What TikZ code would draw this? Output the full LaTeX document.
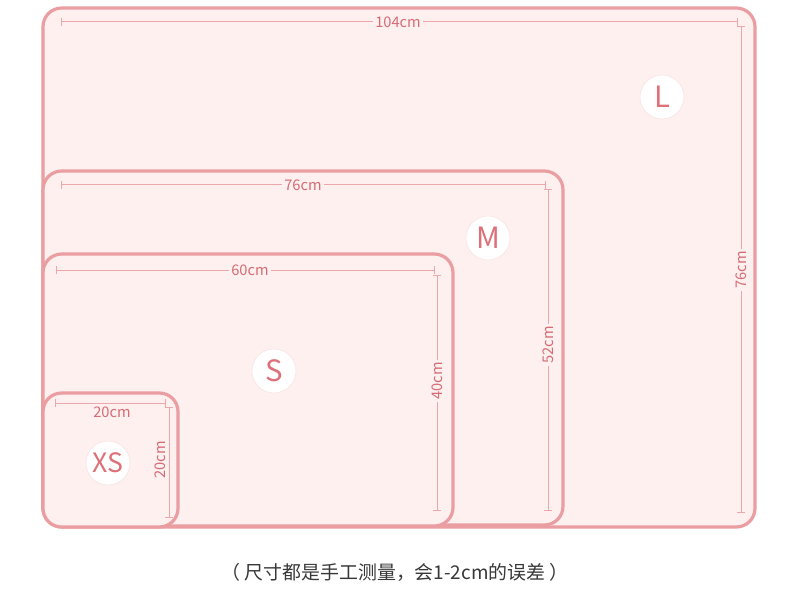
\documentclass[tikz,border=0pt]{standalone}
\usepackage{fontspec}
\setmainfont{Noto Sans CJK SC}
\begin{document}
\begin{tikzpicture}[x=0.75pt,y=-0.75pt,
  boxline/.style={draw=bordercol,line width=2.4pt,fill=boxfill,rounded corners=14pt},
  dimline/.style={draw=dimcol,line width=0.75pt},
  dimlabel/.style={fill=boxfill,text=textcol,font=\fontsize{11}{13}\selectfont,inner sep=1.5pt},
  sizecircle/.style={circle,fill=white,draw=circlecol,line width=0.4pt,minimum size=33pt,inner sep=0pt,text=lettercol,font=\fontsize{22}{24}\selectfont}]
\definecolor{bordercol}{HTML}{EA9EA1}
\definecolor{boxfill}{HTML}{FDF0EF}
\definecolor{dimcol}{HTML}{EBA7AA}
\definecolor{textcol}{HTML}{D76C76}
\definecolor{lettercol}{HTML}{DE7078}
\definecolor{circlecol}{HTML}{F7E2E2}
\useasboundingbox[fill=white] (0,0) rectangle (790,610);

% L
\draw[boxline] (43,8) rectangle (755,527);
\coordinate (lh1) at (61,22); \coordinate (lh2) at (737,22);
\coordinate (lv1) at (741,27); \coordinate (lv2) at (741,512);
\draw[dimline] (lh1) -- (lh2);
\draw[dimline] ([yshift=-3pt]lh1) -- ([yshift=3pt]lh1);
\draw[dimline] ([yshift=-3pt]lh2) -- ([yshift=3pt]lh2);
\draw[dimline] (lv1) -- (lv2);
\draw[dimline] ([xshift=-3pt]lv1) -- ([xshift=3pt]lv1);
\draw[dimline] ([xshift=-3pt]lv2) -- ([xshift=3pt]lv2);
\node[dimlabel] (lw) at (398,22) {104cm};
\node[dimlabel,rotate=90] (lhgt) at (741,270) {76cm};
\node[sizecircle] (L) at (662,97) {L};

% M
\draw[boxline] (43,171) rectangle (563,525);
\coordinate (mh1) at (61,185); \coordinate (mh2) at (545,185);
\coordinate (mv1) at (548,190); \coordinate (mv2) at (548,510);
\draw[dimline] (mh1) -- (mh2);
\draw[dimline] ([yshift=-3pt]mh1) -- ([yshift=3pt]mh1);
\draw[dimline] ([yshift=-3pt]mh2) -- ([yshift=3pt]mh2);
\draw[dimline] (mv1) -- (mv2);
\draw[dimline] ([xshift=-3pt]mv1) -- ([xshift=3pt]mv1);
\draw[dimline] ([xshift=-3pt]mv2) -- ([xshift=3pt]mv2);
\node[dimlabel] (mw) at (303,185) {76cm};
\node[dimlabel,rotate=90] (mhgt) at (548,345) {52cm};
\node[sizecircle] (M) at (488,238) {M};

% S
\draw[boxline] (43,254) rectangle (453,526);
\coordinate (sh1) at (56,270); \coordinate (sh2) at (434,270);
\coordinate (sv1) at (437,275); \coordinate (sv2) at (437,510);
\draw[dimline] (sh1) -- (sh2);
\draw[dimline] ([yshift=-3pt]sh1) -- ([yshift=3pt]sh1);
\draw[dimline] ([yshift=-3pt]sh2) -- ([yshift=3pt]sh2);
\draw[dimline] (sv1) -- (sv2);
\draw[dimline] ([xshift=-3pt]sv1) -- ([xshift=3pt]sv1);
\draw[dimline] ([xshift=-3pt]sv2) -- ([xshift=3pt]sv2);
\node[dimlabel] (sw) at (250,270) {60cm};
\node[dimlabel,rotate=90] (shgt) at (437,381) {40cm};
\node[sizecircle] (S) at (274,371) {S};

% XS
\draw[boxline] (43,393) rectangle (178,527);
\coordinate (xh1) at (55,403); \coordinate (xh2) at (165,403);
\coordinate (xv1) at (169,407); \coordinate (xv2) at (169,517);
\draw[dimline] (xh1) -- (xh2);
\draw[dimline] ([yshift=-3pt]xh1) -- ([yshift=3pt]xh1);
\draw[dimline] ([yshift=-3pt]xh2) -- ([yshift=3pt]xh2);
\draw[dimline] (xv1) -- (xv2);
\draw[dimline] ([xshift=-3pt]xv1) -- ([xshift=3pt]xv1);
\draw[dimline] ([xshift=-3pt]xv2) -- ([xshift=3pt]xv2);
\node[dimlabel,fill=none] (xw) at (112,412) {20cm};
\node[dimlabel,fill=none,rotate=90] (xhgt) at (160,460) {20cm};
\node[sizecircle,font=\fontsize{20}{22}\selectfont] (XS) at (108,463) {XS};

% caption
\node[text=black!78,font=\fontsize{14.2}{17}\selectfont] (cap) at (395,572) {（\ 尺寸都是手工测量，会1-2cm的误差\ ）};
\end{tikzpicture}
\end{document}
